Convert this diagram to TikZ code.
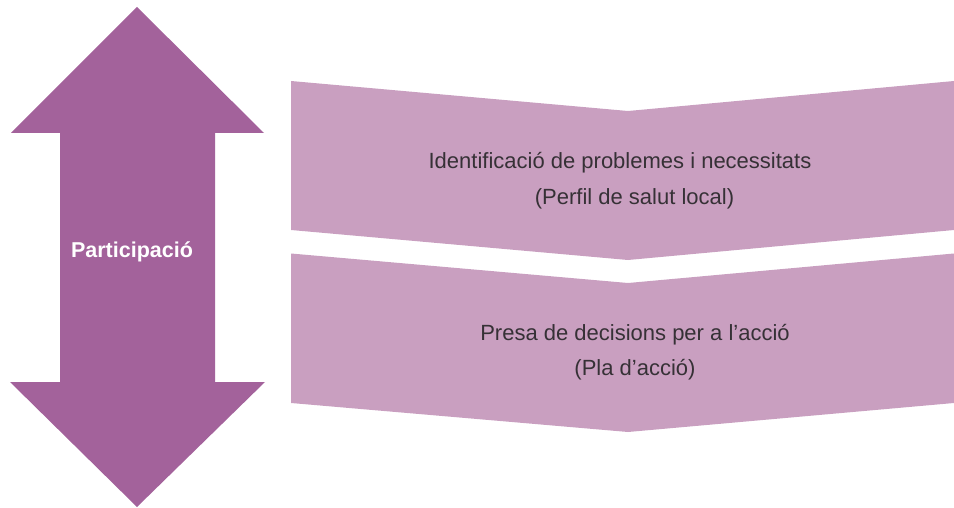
\documentclass[tikz,border=0pt]{standalone}
\usepackage{fontspec}
\setmainfont{Liberation Sans}
\definecolor{arrowpurple}{HTML}{A3629B}
\definecolor{chevronpink}{HTML}{C99FC0}
\definecolor{textgray}{HTML}{363136}
\begin{document}
\begin{tikzpicture}[x=1pt,y=-1pt,
  bigarrow/.style={fill=arrowpurple,draw=none},
  chevron/.style={fill=chevronpink,draw=none},
  chevtext/.style={text=textgray,anchor=base,inner sep=0pt,font=\fontsize{22}{26}\selectfont},
  arrowlabel/.style={text=white,anchor=base,inner sep=0pt,font=\bfseries\fontsize{21.5}{25}\selectfont}]
\useasboundingbox (0,0) rectangle (954,508);
% double-headed vertical arrow
\fill[bigarrow] (137,7) -- (264,133) -- (215,133) -- (215,382) -- (265,382)
  -- (137,507) -- (10,382) -- (60,382) -- (60,133) -- (11,133) -- cycle;
\node[arrowlabel] (part) at (132,257) {Participació};
% chevron 1
\fill[chevron] (291,81) -- (628,111) -- (954,81) -- (954,230) -- (628,260) -- (291,230) -- cycle;
\node[chevtext] (c1a) at (620,169) {Identificació de problemes i necessitats};
\node[chevtext] (c1b) at (634.5,205) {(Perfil de salut local)};
% chevron 2
\fill[chevron] (291,253.5) -- (628,283) -- (954,253.5) -- (954,403) -- (628,432) -- (291,403) -- cycle;
\node[chevtext] (c2a) at (635,340) {Presa de decisions per a l’acció};
\node[chevtext] (c2b) at (635,375) {(Pla d’acció)};
\end{tikzpicture}
\end{document}
